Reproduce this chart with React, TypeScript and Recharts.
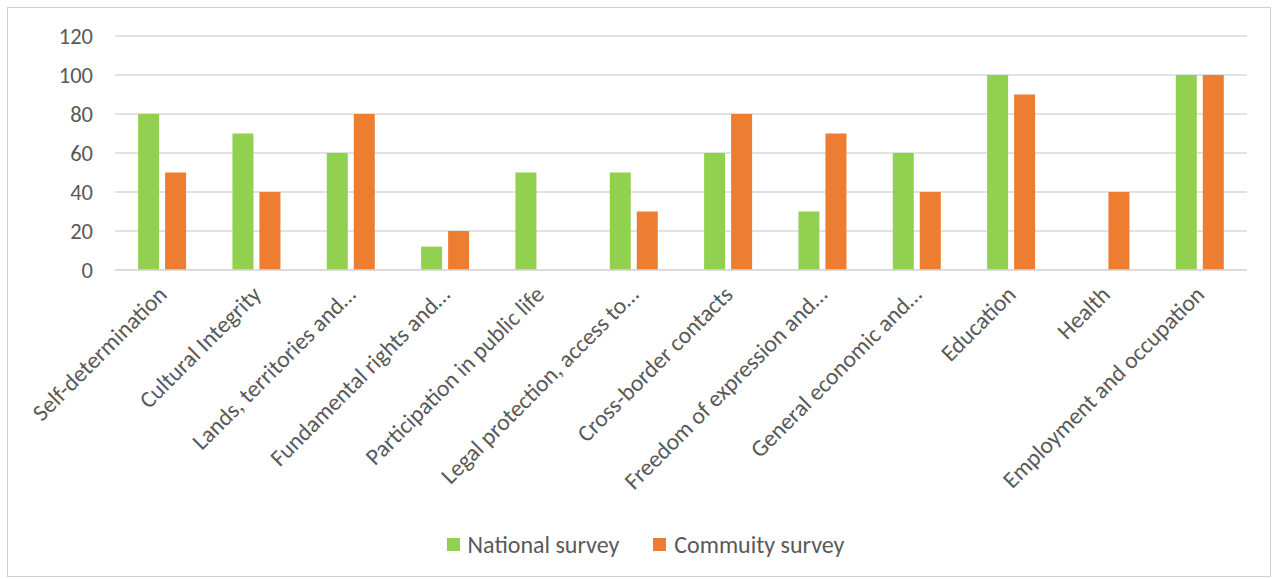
import { BarChart, Bar, XAxis, YAxis, CartesianGrid, Legend } from 'recharts';

const categories = [
    "Self-determination",
    "Cultural Integrity",
    "Lands, territories and…",
    "Fundamental rights and…",
    "Participation in public life",
    "Legal protection, access to…",
    "Cross-border contacts",
    "Freedom of expression and…",
    "General economic and…",
    "Education",
    "Health",
    "Employment and occupation"
];

const nationalSurvey = [80, 70, 60, 12, 50, 50, 60, 30, 60, 100, 0, 100];
const communitySurvey = [50, 40, 80, 20, 0, 30, 80, 70, 40, 90, 40, 100];

const yTicks = [0, 20, 40, 60, 80, 100, 120];

const data = categories.map((name, i) => ({
    name,
    national: nationalSurvey[i],
    community: communitySurvey[i]
}));

const FONT = "Carlito, Lato, 'Open Sans', sans-serif";
const TEXT = "#595959";

function AngledTick(props: any) {
    const { x, y, payload } = props;
    return (
        <g transform={`translate(${x - 6},${y + 6})`}>
            <text
                x={0}
                y={0}
                dy={17}
                textAnchor="end"
                transform="rotate(-45)"
                fill={TEXT}
                fontSize={23.5}
                fontFamily={FONT}
            >
                {payload.value}
            </text>
        </g>
    );
}

function LegendBox() {
    const items = [
        { label: "National survey", color: "#92D050" },
        { label: "Commuity survey", color: "#ED7D31" }
    ];
    return (
        <div style={{ display: "flex", justifyContent: "center", gap: 34, fontFamily: FONT, fontSize: 24, color: TEXT, paddingLeft: 36 }}>
            {items.map(it => (
                <div key={it.label} style={{ display: "flex", alignItems: "center" }}>
                    <span style={{ width: 13, height: 13, background: it.color, display: "inline-block", marginRight: 8 }} />
                    <span>{it.label}</span>
                </div>
            ))}
        </div>
    );
}

export default function App() {
    return (
        <div style={{ position: "absolute", left: 7, top: 7, width: 1262, height: 568, border: "1px solid #d0d0d0", background: "#fff" }}>
            <BarChart
                width={1262}
                height={568}
                data={data}
                margin={{ top: 28, right: 23, left: 0, bottom: 18 }}
                barCategoryGap="24.5%"
                barGap={6}
            >
                <CartesianGrid vertical={false} stroke="#d9d9d9" strokeWidth={1.5} />
                <XAxis
                    dataKey="name"
                    interval={0}
                    tickLine={false}
                    axisLine={{ stroke: "#d9d9d9", strokeWidth: 1.5 }}
                    height={260}
                    tick={<AngledTick />}
                />
                <YAxis
                    domain={[0, 120]}
                    ticks={yTicks}
                    width={107}
                    tickLine={false}
                    axisLine={false}
                    tick={{ fill: TEXT, fontSize: 22.5, fontFamily: FONT }}
                    tickMargin={16}
                />
                <Legend verticalAlign="bottom" height={28} content={<LegendBox />} />
                <Bar dataKey="national" name="National survey" fill="#92D050" isAnimationActive={false} />
                <Bar dataKey="community" name="Commuity survey" fill="#ED7D31" isAnimationActive={false} />
            </BarChart>
        </div>
    );
}
